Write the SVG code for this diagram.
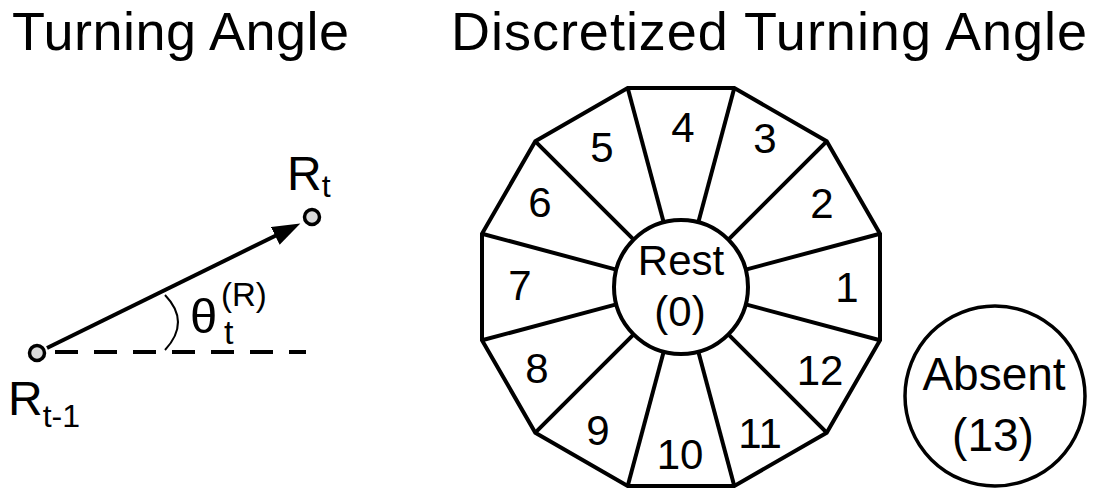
<svg xmlns="http://www.w3.org/2000/svg" width="1096" height="490" viewBox="0 0 1096 490">
<style>
text{font-family:"Liberation Sans",Arial,sans-serif;fill:#000}
.t{font-size:54px}
.n{font-size:42px;text-anchor:middle}
.s{stroke:#000;stroke-width:4;fill:none}
.pt{fill:#dcdcdc;stroke:#000;stroke-width:3.5}
</style>
<defs>
<marker id="ah" markerUnits="userSpaceOnUse" markerWidth="30" markerHeight="22" refX="2" refY="10" orient="auto">
<path d="M0,0 L28,10 L0,20 z" fill="#000"/>
</marker>
</defs>
<rect width="1096" height="490" fill="#fff"/>
<text class="t" x="12" y="50" textLength="337">Turning Angle</text>
<text class="t" x="451" y="50" textLength="636">Discretized Turning Angle</text>

<g id="connectors">
<line x1="47" y1="348" x2="277" y2="235" stroke="#000" stroke-width="4" marker-end="url(#ah)"/>
<line x1="55" y1="352" x2="306" y2="352" stroke="#000" stroke-width="4" stroke-dasharray="23 16"/>
<path d="M165,295 Q191,322 165,350" fill="none" stroke="#000" stroke-width="2"/>
</g>

<g id="r-prev">
<circle class="pt" cx="37" cy="353" r="7.5"/>
<text x="8" y="415" font-size="48">R<tspan font-size="32" dy="12">t-1</tspan></text>
</g>
<g id="r-cur">
<circle class="pt" cx="312" cy="217" r="7.5"/>
<text x="287" y="190" font-size="48">R<tspan font-size="32" dy="7">t</tspan></text>
</g>
<g id="theta">
<text x="190" y="333" font-size="49">θ</text>
<text x="221" y="306" font-size="33">(R)</text>
<text x="224" y="344" font-size="34">t</text>
</g>

<g id="dial">
<polygon class="s" stroke-linejoin="miter" points="880,233.7 826.7,141.3 734.3,88 627.7,88 535.3,141.3 482,233.7 482,340.3 535.3,432.7 627.7,486 734.3,486 826.7,432.7 880,340.3"/>
<g class="s">
<line x1="746.7" y1="269.4" x2="880" y2="233.7"/>
<line x1="729.1" y1="238.9" x2="826.7" y2="141.3"/>
<line x1="698.6" y1="221.3" x2="734.3" y2="88"/>
<line x1="663.4" y1="221.3" x2="627.7" y2="88"/>
<line x1="632.9" y1="238.9" x2="535.3" y2="141.3"/>
<line x1="615.3" y1="269.4" x2="482" y2="233.7"/>
<line x1="615.3" y1="304.6" x2="482" y2="340.3"/>
<line x1="632.9" y1="335.1" x2="535.3" y2="432.7"/>
<line x1="663.4" y1="352.7" x2="627.7" y2="486"/>
<line x1="698.6" y1="352.7" x2="734.3" y2="486"/>
<line x1="729.1" y1="335.1" x2="826.7" y2="432.7"/>
<line x1="746.7" y1="304.6" x2="880" y2="340.3"/>
</g>
<text class="n" x="847" y="302">1</text>
<text class="n" x="822" y="218">2</text>
<text class="n" x="765" y="153">3</text>
<text class="n" x="683" y="142">4</text>
<text class="n" x="602" y="162">5</text>
<text class="n" x="540" y="217">6</text>
<text class="n" x="520" y="300">7</text>
<text class="n" x="537" y="383">8</text>
<text class="n" x="598" y="445">9</text>
<text class="n" x="680" y="469">10</text>
<text class="n" x="760" y="448">11</text>
<text class="n" x="820" y="385">12</text>
</g>

<g id="rest">
<circle cx="681" cy="287" r="67" fill="#fff" stroke="#000" stroke-width="4"/>
<text class="n" x="681" y="275">Rest</text>
<text class="n" x="680" y="326">(0)</text>
</g>

<g id="absent">
<circle cx="995" cy="396" r="90" fill="#fff" stroke="#000" stroke-width="3.5"/>
<text x="994" y="390" font-size="46" text-anchor="middle">Absent</text>
<text x="993" y="451" font-size="46" text-anchor="middle">(13)</text>
</g>
</svg>
